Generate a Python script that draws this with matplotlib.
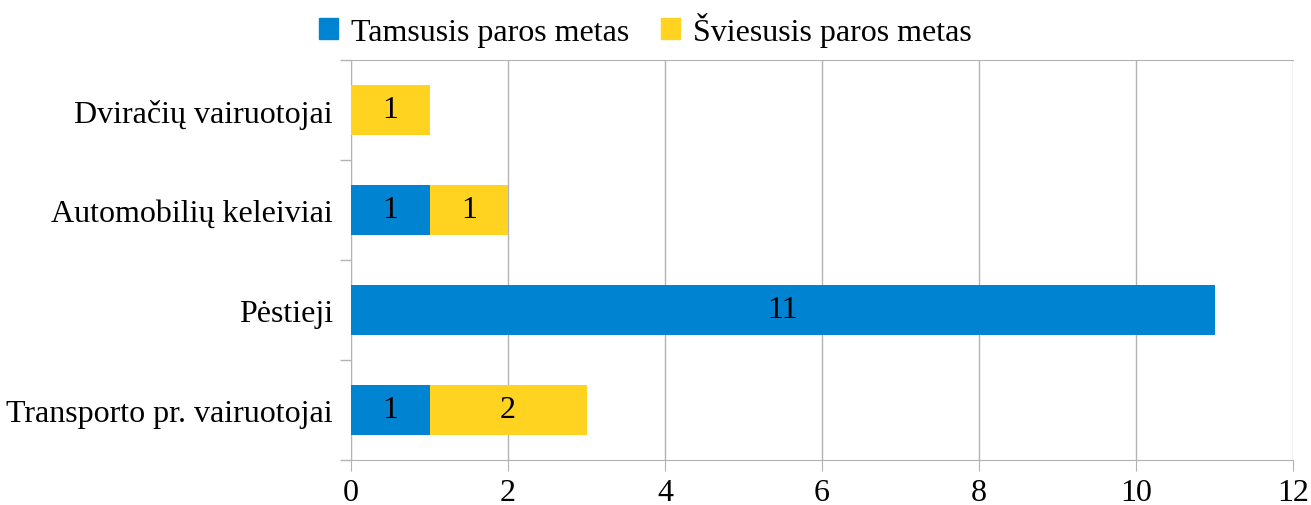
import numpy as np
import matplotlib.pyplot as plt
from matplotlib.patches import Patch

categories = ['Transporto pr. vairuotojai', 'Pėstieji', 'Automobilių keleiviai', 'Dviračių vairuotojai']
dark = [1, 11, 1, 0]
light = [2, 0, 1, 1]
series_names = ['Tamsusis paros metas', 'Šviesusis paros metas']
colors = ['#0084D1', '#FFD320']

plt.rcParams['font.family'] = ['Liberation Serif', 'DejaVu Serif']
fs = 23

fig = plt.figure(figsize=(13.11, 5.06), dpi=100)
ax = fig.add_axes([351 / 1311, 1 - 461 / 506, (1293 - 351) / 1311, 400 / 506])

y = np.arange(len(categories))
dark = np.array(dark)
light = np.array(light)

b1 = ax.barh(y, dark, height=0.5, color=colors[0], zorder=3)
b2 = ax.barh(y, light, left=dark, height=0.5, color=colors[1], zorder=3)

for bars, vals in ((b1, dark), (b2, light)):
    labels = [str(v) if v else '' for v in vals]
    ax.bar_label(bars, labels=labels, label_type='center', fontsize=fs, color='black')

ax.set_xlim(0, 12)
ax.set_ylim(-0.5, len(categories) - 0.5)
ax.set_xticks(np.arange(0, 13, 2))
ax.set_yticks(y)
ax.set_yticklabels(categories)
ax.set_yticks(np.arange(-0.5, len(categories), 1), minor=True)
ax.tick_params(axis='y', which='major', length=0, pad=13, labelsize=fs)
ax.tick_params(axis='y', which='minor', length=8, color='#b3b3b3', width=1)
ax.tick_params(axis='x', length=8, color='#b3b3b3', labelsize=fs, pad=5)

ax.grid(axis='x', color='#b3b3b3', linewidth=1, zorder=0)
for side in ['left', 'bottom', 'top']:
    ax.spines[side].set_color('#b3b3b3')
ax.spines['right'].set_visible(False)

handles = [Patch(color=c) for c in colors]
fig.legend(handles, series_names, loc='center', bbox_to_anchor=(0.492, 0.94), ncol=2,
           frameon=False, fontsize=fs, handlelength=0.6, handleheight=0.6,
           handletextpad=0.4, columnspacing=1.0)

fig.savefig('out.png', dpi=100)
